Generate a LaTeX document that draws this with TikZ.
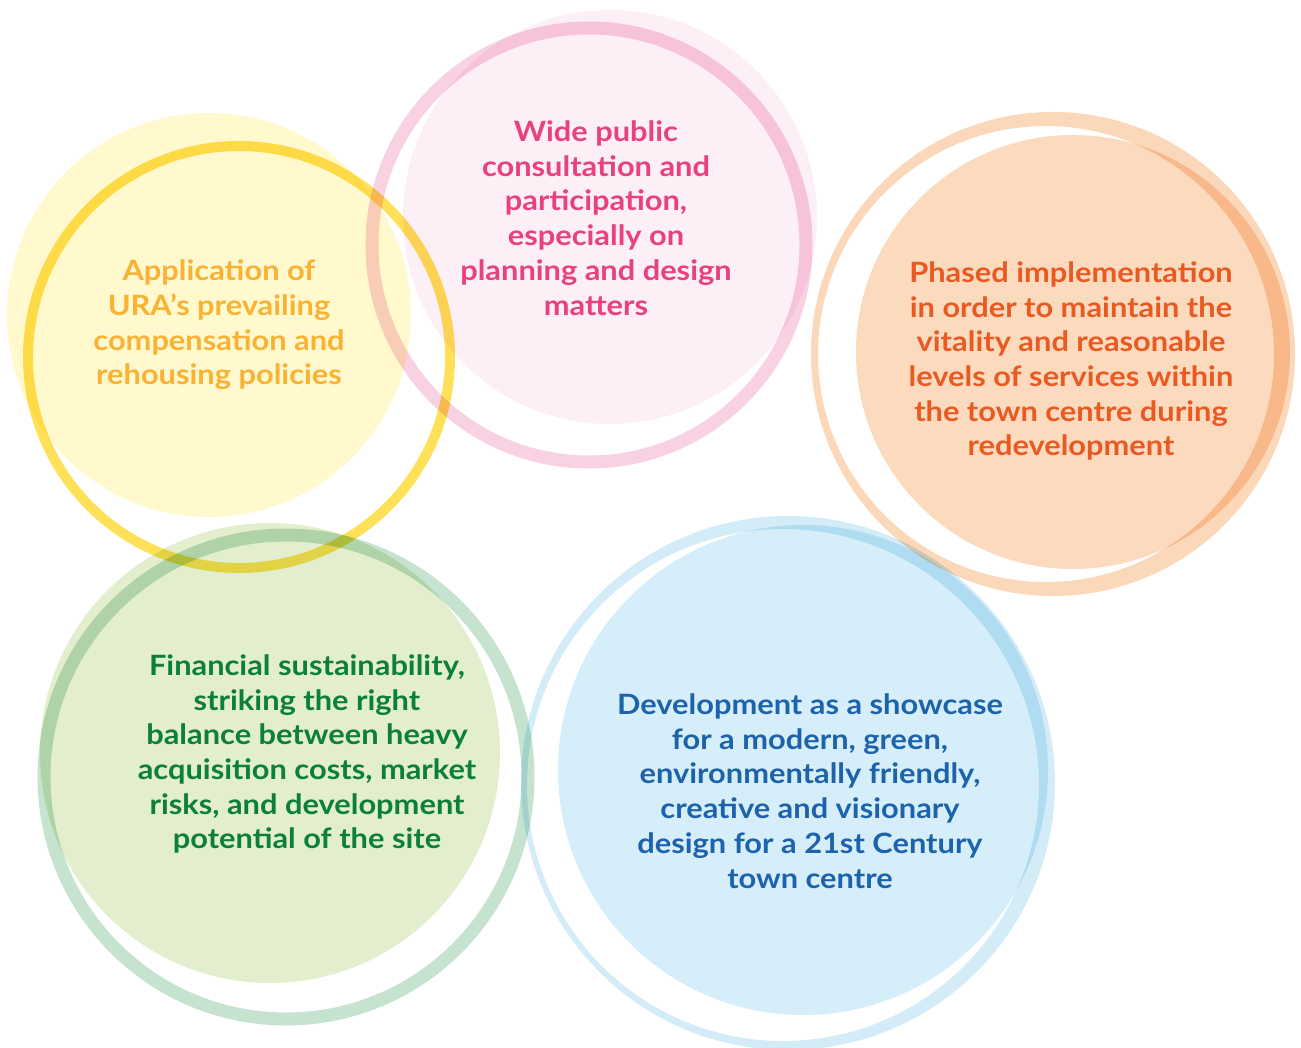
\documentclass[tikz,border=0pt]{standalone}
\usepackage{fontspec}
\setmainfont{Lato}[FakeStretch=1.1]
\usetikzlibrary{positioning}
\definecolor{yellowdisc}{RGB}{255,249,205}
\definecolor{yellowring}{RGB}{254,225,88}
\definecolor{yellowtext}{RGB}{250,178,52}
\definecolor{pinkdisc}{RGB}{253,239,246}
\definecolor{pinkring}{RGB}{248,209,226}
\definecolor{pinktext}{RGB}{233,65,127}
\definecolor{orangedisc}{RGB}{252,218,190}
\definecolor{orangering}{RGB}{251,216,186}
\definecolor{orangetext}{RGB}{233,90,35}
\definecolor{greendisc}{RGB}{226,238,205}
\definecolor{greenring}{RGB}{198,227,208}
\definecolor{greentext}{RGB}{12,127,58}
\definecolor{bluedisc}{RGB}{213,238,249}
\definecolor{bluering}{RGB}{211,236,248}
\definecolor{bluetext}{RGB}{29,99,171}
\tikzset{
  circletext/.style={align=center, font=\bfseries\fontsize{28}{34.7}\selectfont},
}
\begin{document}
\begin{tikzpicture}[x=1pt, y=-1pt]
    \useasboundingbox (0,0) rectangle (1301,1048);

    \begin{scope}[blend mode=multiply]
        % Cercle jaune
        \fill[yellowdisc] (209,315) circle[radius=202];
        \draw[yellowring, line width=10pt] (239,357) circle[radius=211];

        % Cercle rose
        \fill[pinkdisc] (610,217) circle[radius=207];
        \draw[pinkring, line width=13pt] (589,245) circle[radius=217];

        % Cercle orange
        \fill[orangedisc] (1073,352) circle[radius=217];
        \fill[orangering, even odd rule] (1053,354) circle[radius=242] (1046,354) circle[radius=228];

        % Cercle vert
        \fill[greendisc] (270,753) circle[radius=230];
        \draw[greenring, line width=13pt] (286,777) circle[radius=242];

        % Cercle bleu
        \fill[bluedisc] (803,770) circle[radius=245];
        \fill[bluering, even odd rule] (788,783) circle[radius=267] (783,785) circle[radius=256];
    \end{scope}

    % Textes
    \node[circletext, text=yellowtext] (compensation) at (219,325) {Application of\\URA’s prevailing\\compensation and\\rehousing policies};
    \node[circletext, text=pinktext] (consultation) at (596,218) {Wide public\\consultation and\\participation,\\especially on\\planning and design\\matters};
    \node[circletext, text=orangetext] (phasing) at (1071,361) {Phased implementation\\in order to maintain the\\vitality and reasonable\\levels of services within\\the town centre during\\redevelopment};
    \node[circletext, text=greentext] (finance) at (307,754) {Financial sustainability,\\striking the right\\balance between heavy\\acquisition costs, market\\risks, and development\\potential of the site};
    \node[circletext, text=bluetext] (showcase) at (810,791) {Development as a showcase\\for a modern, green,\\environmentally friendly,\\creative and visionary\\design for a 21st Century\\town centre};
\end{tikzpicture}
\end{document}
